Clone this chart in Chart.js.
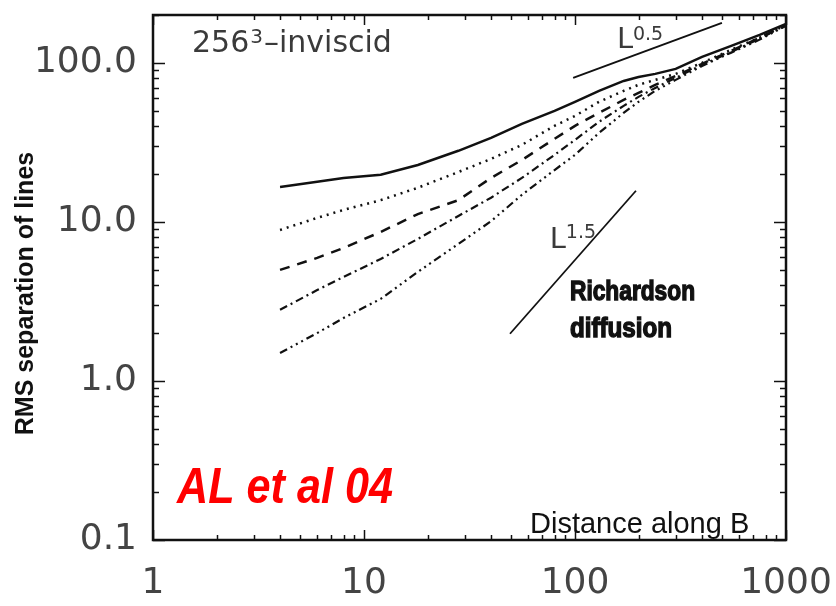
<!DOCTYPE html>
<html>
<head>
<meta charset="utf-8">
<script src="https://cdn.jsdelivr.net/npm/chart.js@4.4.0/dist/chart.umd.min.js"></script>
<style>
  html, body { margin: 0; padding: 0; background: #fff; }
  #wrap { width: 836px; height: 606px; }
</style>
</head>
<body>
<div id="wrap"><canvas id="chart" width="836" height="606"></canvas></div>
<script>
// distance along B, shared by the five curves
const distance = [4, 6, 8, 12, 18, 28, 40, 56, 80, 100, 130, 170, 200, 240, 300, 400, 550, 750, 1000];
// RMS separation of lines, one array per initial separation
const sepSolid   = [16.6, 17.9, 18.9, 19.8, 22.8, 28, 33.8, 41.3, 49.9, 56.9, 66.7, 77, 81.6, 85.3, 91.7, 109, 128, 150, 176];
const sepDotted  = [8.9, 10.6, 11.9, 13.7, 16.4, 20.6, 24.9, 30.5, 40.2, 46.4, 56.9, 66.7, 72.8, 78.2, 85.3, 100, 121, 144, 173];
const sepDashed  = [4.99, 5.94, 6.86, 8.65, 11.2, 13.7, 18.9, 24.5, 33.3, 40.2, 48.5, 58.5, 64.7, 72.8, 82.8, 98.6, 119, 144, 173];
const sepDashDot = [2.8, 3.73, 4.51, 5.85, 7.82, 10.9, 14.2, 18.9, 26.4, 32.8, 42.6, 53.7, 61.1, 69.6, 80.5, 97.1, 117, 142, 173];
const sepDash3Dot = [1.5, 2.0, 2.49, 3.28, 4.85, 7.27, 10.1, 14.8, 21.2, 26.4, 36.3, 48.5, 56.9, 66.7, 78.2, 95.7, 116, 140, 171];

// reference slopes L^0.5 and L^1.5
const halfX = [98, 497];
const halfY = [80.5, 178.5];
const richX = [49.2, 194.5];
const richY = [1.98, 15.7];

const xTickValues = [1, 10, 100, 1000];
const xTickLabels = ['1', '10', '100', '1000'];
const yTickValues = [0.1, 1, 10, 100];
const yTickLabels = ['0.1', '1.0', '10.0', '100.0'];

const toPoints = (xs, ys) => xs.map((v, i) => ({ x: v, y: ys[i] }));

const curve = (data, dash, width) => ({
    data: data,
    showLine: true,
    pointRadius: 0,
    borderColor: '#111',
    borderWidth: width,
    borderDash: dash,
    tension: 0
});

// inward IDL-style ticks on all four sides, plus the frame and annotations
const frameTicks = {
    id: 'frameTicks',
    afterDraw(chart) {
        const { ctx, chartArea: a, scales: { x, y } } = chart;
        const logTicks = (min, max) => {
            const out = [];
            for (let e = Math.floor(Math.log10(min)); e <= Math.ceil(Math.log10(max)); e++) {
                for (let m = 1; m < 10; m++) {
                    const v = m * Math.pow(10, e);
                    if (v >= min * 0.999 && v <= max * 1.001) out.push([v, m === 1]);
                }
            }
            return out;
        };
        const seg = (x1, y1, x2, y2) => { ctx.beginPath(); ctx.moveTo(x1, y1); ctx.lineTo(x2, y2); ctx.stroke(); };
        ctx.save();
        ctx.strokeStyle = '#111';
        ctx.lineWidth = 1.5;
        logTicks(x.min, x.max).forEach(([v, major]) => {
            const px = Math.round(x.getPixelForValue(v)) + 0.5;
            const len = major ? 10 : 5;
            seg(px, a.bottom, px, a.bottom - len);
            seg(px, a.top, px, a.top + len);
        });
        logTicks(y.min, y.max).forEach(([v, major]) => {
            const py = Math.round(y.getPixelForValue(v)) + 0.5;
            const len = major ? 12 : 6;
            seg(a.left, py, a.left + len, py);
            seg(a.right, py, a.right - len, py);
        });
        ctx.lineWidth = 2.5;
        ctx.strokeRect(a.left, a.top, a.right - a.left, a.bottom - a.top);

        const at = (vx, vy) => [x.getPixelForValue(vx), y.getPixelForValue(vy)];
        ctx.textBaseline = 'alphabetic';
        ctx.textAlign = 'left';
        ctx.fillStyle = '#3a3a3a';

        let p = at(1.53, 117);
        ctx.font = '30px "DejaVu Sans"';
        ctx.fillText('256', p[0], p[1]);
        let w = ctx.measureText('256').width;
        ctx.font = '20px "DejaVu Sans"';
        ctx.fillText('3', p[0] + w + 1, p[1] - 9);
        w += ctx.measureText('3').width + 2;
        ctx.font = '30px "DejaVu Sans"';
        ctx.fillText('\u2013inviscid', p[0] + w, p[1]);

        p = at(158, 124);
        ctx.font = '29px "DejaVu Sans"';
        ctx.fillText('L', p[0], p[1]);
        ctx.font = '19px "DejaVu Sans"';
        ctx.fillText('0.5', p[0] + 16, p[1] - 8);

        p = at(76, 6.86);
        ctx.font = '29px "DejaVu Sans"';
        ctx.fillText('L', p[0], p[1]);
        ctx.font = '19px "DejaVu Sans"';
        ctx.fillText('1.5', p[0] + 16, p[1] - 10);

        ctx.fillStyle = '#111';
        ctx.strokeStyle = '#111';
        ctx.lineWidth = 1.4;
        ctx.font = 'bold 27px "Liberation Sans"';
        p = at(94.7, 3.23);
        ctx.fillText('Richardson', p[0], p[1], 125);
        ctx.strokeText('Richardson', p[0], p[1], 125);
        p = at(94.7, 1.89);
        ctx.fillText('diffusion', p[0], p[1], 102);
        ctx.strokeText('diffusion', p[0], p[1], 102);

        ctx.fillStyle = '#111';
        ctx.font = '29px "Liberation Sans"';
        p = at(61.2, 0.111);
        ctx.fillText('Distance along B', p[0], p[1], 227);

        ctx.fillStyle = '#ff0000';
        ctx.font = 'italic bold 50px "Liberation Sans"';
        p = at(1.30, 0.171);
        ctx.fillText('AL et al 04', p[0], p[1], 216);

        // y axis title, a bit below the middle of the frame as in the original
        ctx.fillStyle = '#111';
        ctx.font = 'bold 25px "Liberation Sans"';
        ctx.textAlign = 'center';
        ctx.textBaseline = 'middle';
        ctx.translate(26, (a.top + a.bottom) / 2 + 16);
        ctx.rotate(-Math.PI / 2);
        ctx.fillText('RMS separation of lines', 0, 0, 292);
        ctx.restore();
    }
};

const ctx = document.getElementById('chart');

new Chart(ctx, {
    type: 'scatter',
    data: {
        datasets: [
            curve(toPoints(distance, sepSolid), [], 2.5),
            curve(toPoints(distance, sepDotted), [2, 5], 2.5),
            curve(toPoints(distance, sepDashed), [10, 8], 2.5),
            curve(toPoints(distance, sepDashDot), [8, 4, 2, 4], 2.2),
            curve(toPoints(distance, sepDash3Dot), [8, 4, 2, 4, 2, 4, 2, 4], 2.2),
            curve(toPoints(halfX, halfY), [], 2),
            curve(toPoints(richX, richY), [], 1.8)
        ]
    },
    options: {
        responsive: false,
        animation: false,
        layout: { padding: { top: 15, right: 50, left: 0, bottom: 0 } },
        plugins: {
            legend: { display: false },
            tooltip: { enabled: false }
        },
        scales: {
            x: {
                type: 'logarithmic',
                min: 1,
                max: 1000,
                grid: { display: false, drawTicks: false },
                border: { display: false },
                afterBuildTicks: (scale) => { scale.ticks = xTickValues.map(v => ({ value: v })); },
                afterFit: (scale) => {
                    scale.height = 66;
                    scale.paddingLeft = 0;
                    scale.paddingRight = 0;
                },
                ticks: {
                    padding: 22,
                    maxRotation: 0,
                    color: '#444',
                    font: { family: 'DejaVu Sans', size: 36 },
                    callback: (v) => xTickLabels[xTickValues.indexOf(v)]
                }
            },
            y: {
                type: 'logarithmic',
                min: 0.1,
                max: 200,
                grid: { display: false, drawTicks: false },
                border: { display: false },
                afterBuildTicks: (scale) => { scale.ticks = yTickValues.map(v => ({ value: v })); },
                afterFit: (scale) => {
                    scale.width = 153;
                    scale.paddingTop = 0;
                    scale.paddingBottom = 0;
                },
                ticks: {
                    padding: 16,
                    color: '#444',
                    font: { family: 'DejaVu Sans', size: 36 },
                    callback: (v) => yTickLabels[yTickValues.indexOf(v)]
                }
            }
        }
    },
    plugins: [frameTicks]
});
</script>
</body>
</html>
